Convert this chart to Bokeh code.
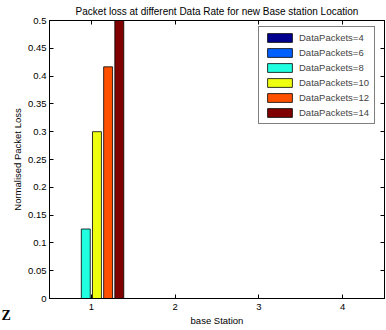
from bokeh.plotting import figure
from bokeh.models import (ColumnDataSource, Range1d, FixedTicker, LinearAxis,
                          CustomJSTickFormatter, Legend, LegendItem, Title, Label)
from bokeh.transform import dodge
from bokeh.embed import file_html
from bokeh.resources import INLINE

# ---- data ----
stations = [1, 2, 3, 4]
series_names = ["DataPackets=4", "DataPackets=6", "DataPackets=8",
                "DataPackets=10", "DataPackets=12", "DataPackets=14"]
dp4 = [0, 0, 0, 0]
dp6 = [0, 0, 0, 0]
dp8 = [0.125, 0, 0, 0]
dp10 = [0.3, 0, 0, 0]
dp12 = [0.4167, 0, 0, 0]
dp14 = [0.5, 0, 0, 0]
y_ticks = [0, 0.05, 0.1, 0.15, 0.2, 0.25, 0.3, 0.35, 0.4, 0.45, 0.5]
x_ticks = [1, 2, 3, 4]

colors = ["#00008F", "#0060FF", "#20FFDF", "#EFFF10", "#FF5000", "#800000"]
series = [dp4, dp6, dp8, dp10, dp12, dp14]

src = ColumnDataSource(dict(station=stations, **{f"s{i}": v for i, v in enumerate(series)}))

FONT = "Liberation Sans"

p = figure(width=386, height=330, output_backend="svg", toolbar_location=None,
           x_range=Range1d(0.5, 4.5), y_range=Range1d(0, 0.5),
           min_border_left=49, min_border_right=2, min_border_top=0, min_border_bottom=32,
           x_axis_location=None, y_axis_location=None)
p.background_fill_color = "white"
p.border_fill_color = "white"
p.outline_line_color = "black"
p.outline_line_width = 1
p.xgrid.visible = False
p.ygrid.visible = False

step = 0.8 / 6
bw = 0.8 * step
items = []
for i, name in enumerate(series_names):
    off = (i - 2.5) * step
    r = p.vbar(x=dodge("station", off), top=f"s{i}", width=bw, bottom=0, source=src,
               fill_color=colors[i], line_color="black", line_width=0.8)
    items.append(LegendItem(label=name, renderers=[r]))

fmt = CustomJSTickFormatter(code="""
let s = tick.toFixed(2);
if (s.indexOf('.') >= 0) { s = s.replace(/0+$/, '').replace(/\\.$/, ''); }
return s;
""")

def style(ax, labels=True):
    ax.axis_line_color = "black"
    ax.axis_line_width = 1
    ax.major_tick_in = 4
    ax.major_tick_out = 0
    ax.minor_tick_in = 0
    ax.minor_tick_out = 0
    ax.major_tick_line_color = "black"
    ax.major_label_text_font = FONT
    ax.major_label_text_font_size = "9.5px"
    ax.major_label_text_color = "black"
    ax.axis_label_text_font = FONT
    ax.axis_label_text_font_size = "9.5px"
    ax.axis_label_text_font_style = "normal"
    ax.axis_label_text_color = "black"
    if not labels:
        ax.major_label_text_font_size = "0px"
        ax.major_label_text_alpha = 0

xb = LinearAxis(ticker=FixedTicker(ticks=x_ticks), axis_label="base Station")
style(xb)
xb.major_label_standoff = 5
xb.axis_label_standoff = 2
p.add_layout(xb, "below")

yl = LinearAxis(ticker=FixedTicker(ticks=y_ticks), formatter=fmt, axis_label="Normalised Packet Loss")
style(yl)
yl.major_label_standoff = 3
yl.axis_label_standoff = 2
p.add_layout(yl, "left")

xa = LinearAxis(ticker=FixedTicker(ticks=x_ticks))
style(xa, labels=False)
xa.major_label_standoff = 0
p.add_layout(xa, "above")

yr = LinearAxis(ticker=FixedTicker(ticks=y_ticks))
style(yr, labels=False)
yr.major_label_standoff = 0
p.add_layout(yr, "right")

t = Title(text="Packet loss at different Data Rate for new Base station Location",
          align="center", text_font=FONT, text_font_size="10px",
          text_font_style="normal", text_color="black", standoff=7)
p.add_layout(t, "above")

legend = Legend(items=items, location=(209, 174), orientation="vertical",
                glyph_width=31, glyph_height=11, label_height=11, spacing=4,
                padding=5, margin=0, label_standoff=4,
                label_text_font=FONT, label_text_font_size="9.5px",
                border_line_color="black", border_line_width=1,
                background_fill_color="white", background_fill_alpha=1)
p.add_layout(legend, "center")

z = Label(x=1, y=322, x_units="canvas", y_units="canvas", text="Z",
          text_font="Liberation Serif", text_font_size="14px", text_font_style="bold",
          text_color="black", text_baseline="bottom")
p.add_layout(z, "left")

open("out.html", "w").write(file_html(p, INLINE))
